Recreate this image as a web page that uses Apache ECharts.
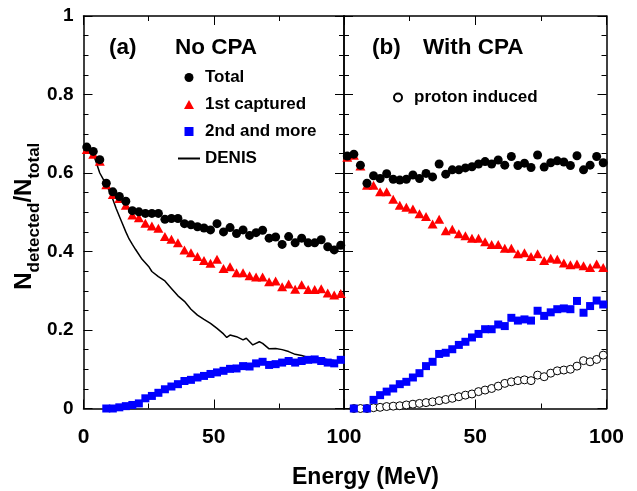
<!DOCTYPE html>
<html>
<head>
<meta charset="utf-8">
<script src="https://cdn.jsdelivr.net/npm/echarts@6/dist/echarts.min.js"></script>
<style>
html,body{margin:0;padding:0;background:#fff;}
#c{width:637px;height:491px;}
</style>
</head>
<body>
<div id="c"></div>
<script>
// ---- data ----
var energy = [1.25,3.75,6.25,8.75,11.25,13.75,16.25,18.75,21.25,23.75,26.25,28.75,31.25,33.75,36.25,38.75,41.25,43.75,46.25,48.75,51.25,53.75,56.25,58.75,61.25,63.75,66.25,68.75,71.25,73.75,76.25,78.75,81.25,83.75,86.25,88.75,91.25,93.75,96.25,98.75];

var noCpaTotal = [0.666,0.655,0.634,0.574,0.552,0.540,0.528,0.504,0.501,0.497,0.497,0.497,0.482,0.484,0.484,0.471,0.468,0.463,0.460,0.455,0.471,0.450,0.461,0.446,0.455,0.441,0.448,0.454,0.434,0.437,0.418,0.438,0.422,0.434,0.422,0.422,0.430,0.412,0.404,0.416];
var noCpaFirst = [0.660,0.648,0.630,0.570,0.545,0.535,0.518,0.493,0.486,0.472,0.465,0.459,0.438,0.431,0.422,0.404,0.397,0.387,0.377,0.370,0.380,0.357,0.361,0.346,0.346,0.338,0.335,0.335,0.323,0.325,0.310,0.317,0.304,0.315,0.303,0.303,0.305,0.294,0.289,0.293];
var noCpaSecond = [null,null,null,0.0,0.0,0.003,0.006,0.009,0.013,0.026,0.032,0.040,0.049,0.056,0.062,0.070,0.073,0.079,0.083,0.088,0.092,0.096,0.101,0.102,0.108,0.107,0.115,0.119,0.111,0.113,0.117,0.121,0.117,0.121,0.124,0.125,0.121,0.117,0.115,0.124];

var denisEnergy = [1.25,3.75,5,6.25,7.5,8.75,10,11.25,12.5,13.75,15,16.25,17.5,18.75,20,22.5,25,26.25,28.75,31.25,33.75,36.25,38.75,41.25,43.75,46.25,48.75,51.25,53.75,55,56.25,58.75,61.25,62.5,65,67.5,68.75,71.25,73.75,76.25,78.75,81.25,83.75,86.25,88.75,91.25,93.75,96.25,98.75];
var denisValue = [0.665,0.648,0.625,0.600,0.585,0.570,0.553,0.533,0.510,0.490,0.470,0.450,0.432,0.418,0.405,0.380,0.362,0.349,0.336,0.325,0.306,0.287,0.273,0.253,0.238,0.227,0.217,0.204,0.190,0.181,0.187,0.183,0.175,0.179,0.162,0.170,0.166,0.152,0.153,0.150,0.145,0.138,0.135,0.130,0.124,0.128,0.124,0.122,0.121];

var cpaTotal = [0.643,0.648,0.620,0.574,0.593,0.586,0.598,0.584,0.582,0.584,0.595,0.586,0.599,0.590,0.623,0.597,0.608,0.608,0.613,0.616,0.623,0.629,0.623,0.633,0.620,0.642,0.619,0.625,0.614,0.646,0.615,0.626,0.631,0.628,0.619,0.644,0.608,0.620,0.642,0.626];
var cpaFirst = [0.640,0.645,0.618,0.569,0.569,0.552,0.552,0.533,0.518,0.513,0.508,0.496,0.489,0.470,0.482,0.453,0.457,0.445,0.440,0.434,0.434,0.425,0.418,0.418,0.408,0.408,0.394,0.397,0.387,0.394,0.377,0.383,0.380,0.371,0.366,0.368,0.364,0.359,0.368,0.359];
var cpaSecond = [null,0.0,null,0.0,0.022,0.034,0.043,0.051,0.062,0.068,0.079,0.090,0.108,0.119,0.139,0.142,0.151,0.162,0.170,0.181,0.190,0.202,0.202,0.214,0.210,0.231,0.224,0.227,0.224,0.249,0.236,0.245,0.253,0.255,0.253,0.274,0.244,0.261,0.275,0.265];
var cpaProton = [null,0.0,0.0,0.0,0.002,0.003,0.005,0.006,0.007,0.009,0.011,0.013,0.015,0.017,0.020,0.023,0.026,0.030,0.034,0.037,0.043,0.047,0.051,0.057,0.064,0.068,0.071,0.073,0.071,0.085,0.081,0.090,0.096,0.098,0.100,0.108,0.122,0.119,0.125,0.136];

var xTicks = [0, 50, 100];
var yTicks = [0, 0.2, 0.4, 0.6, 0.8, 1];

// ---- helpers ----
function pairs(xs, ys) {
  var out = [];
  for (var i = 0; i < xs.length; i++) {
    if (ys[i] !== null && ys[i] !== undefined) out.push([xs[i], ys[i]]);
  }
  return out;
}

var FONT = 'Liberation Sans, Arial, Helvetica, sans-serif';
var lineStyle = {color: '#000', width: 1.5};
var TRI = 'path://M5,0L10,9L0,9Z';
var SQR = 'path://M0,0L8,0L8,8L0,8Z';

function xAxisDef(grid, pos, showLabels, hideMin) {
  return {
    type: 'value', gridIndex: grid, position: pos,
    min: xTicks[0], max: xTicks[xTicks.length - 1], interval: xTicks[1] - xTicks[0],
    axisLine: {show: true, onZero: false, lineStyle: lineStyle},
    axisTick: {show: true, inside: true, length: 9, lineStyle: {color: '#000', width: 1}},
    minorTick: {show: true, splitNumber: 2, length: 5, lineStyle: {color: '#000', width: 1}},
    splitLine: {show: false},
    axisLabel: {show: showLabels, showMinLabel: !hideMin, margin: 18, color: '#000',
      fontFamily: FONT, fontWeight: 'bold', fontSize: 21}
  };
}
function yAxisDef(grid, pos, showLabels) {
  var a = {
    type: 'value', gridIndex: grid, position: pos,
    min: yTicks[0], max: yTicks[yTicks.length - 1], interval: yTicks[1] - yTicks[0],
    axisLine: {show: true, onZero: false, lineStyle: lineStyle},
    axisTick: {show: true, inside: true, length: 9, lineStyle: {color: '#000', width: 1}},
    minorTick: {show: true, splitNumber: 4, length: 5, lineStyle: {color: '#000', width: 1}},
    splitLine: {show: false},
    axisLabel: {show: showLabels, margin: 10, color: '#000',
      fontFamily: FONT, fontWeight: 'bold', fontSize: 19}
  };
  if (grid === 0 && pos === 'left') {
    a.name = '{n|N}{s|detected}{n|/N}{s|total}';
    a.nameLocation = 'middle';
    a.nameGap = 38;
    a.nameTextStyle = {
      color: '#000',
      padding: [0, 8, 0, 0],
      rich: {
        n: {fontFamily: FONT, fontWeight: 'bold', fontSize: 24, color: '#000', padding: [0, 0, 7, 0], verticalAlign: 'bottom'},
        s: {fontFamily: FONT, fontWeight: 'bold', fontSize: 17, color: '#000', verticalAlign: 'bottom'}
      }
    };
  }
  return a;
}

var markerBase = {type: 'scatter', silent: true, animation: false};
var titleStyle = {fontFamily: FONT, fontWeight: 'bold', fontSize: 22.5, color: '#000'};

var option = {
  animation: false,
  backgroundColor: '#fff',
  grid: [
    {left: 83.5, top: 16, width: 260.5, height: 392.5},
    {left: 344, top: 16, width: 262.5, height: 392.5}
  ],
  xAxis: [
    xAxisDef(0, 'bottom', true, false),
    xAxisDef(0, 'top', false, false),
    xAxisDef(1, 'bottom', true, true),
    xAxisDef(1, 'top', false, false)
  ],
  yAxis: [
    yAxisDef(0, 'left', true),
    yAxisDef(0, 'right', false),
    yAxisDef(1, 'left', false),
    yAxisDef(1, 'right', false)
  ],
  title: [
    {text: '(a)', left: 109, top: 36, padding: 0, textStyle: titleStyle},
    {text: 'No CPA', left: 175, top: 36, padding: 0, textStyle: titleStyle},
    {text: '(b)', left: 372, top: 36, padding: 0, textStyle: titleStyle},
    {text: 'With CPA', left: 423, top: 36, padding: 0, textStyle: titleStyle},
    {text: 'Energy (MeV)', left: 292, top: 466, padding: 0, textStyle: {fontFamily: FONT, fontWeight: 'bold', fontSize: 23, color: '#000'}}
  ],
  legend: [
    {
      data: [
        {name: 'Total', icon: 'circle'},
        {name: '1st captured', icon: TRI},
        {name: '2nd and more', icon: SQR},
        {name: 'DENIS', itemStyle: {color: 'rgba(0,0,0,0)', borderWidth: 0, borderColor: 'rgba(0,0,0,0)'}}
      ],
      orient: 'vertical', left: 177, top: 69, padding: 0,
      itemWidth: 22, itemHeight: 9, itemGap: 10,
      selectedMode: false,
      textStyle: {fontFamily: FONT, fontWeight: 'bold', fontSize: 17, color: '#000'}
    },
    {
      data: [{name: 'proton induced', icon: 'circle'}],
      orient: 'vertical', left: 393, top: 89, padding: 0,
      itemWidth: 22, itemHeight: 8, itemGap: 10,
      selectedMode: false,
      textStyle: {fontFamily: FONT, fontWeight: 'bold', fontSize: 17, color: '#000'}
    }
  ],
  series: [
    {type: 'line', name: 'DENIS', xAxisIndex: 0, yAxisIndex: 0, data: pairs(denisEnergy, denisValue),
      symbol: 'none', silent: true, lineStyle: {color: '#000', width: 1.5}, itemStyle: {color: '#000'}, z: 2},
    Object.assign({}, markerBase, {name: '2nd and more', xAxisIndex: 0, yAxisIndex: 0, data: pairs(energy, noCpaSecond),
      symbol: 'rect', symbolSize: 8, itemStyle: {color: '#0000ff', opacity: 1}, z: 3}),
    Object.assign({}, markerBase, {name: '1st captured', xAxisIndex: 0, yAxisIndex: 0, data: pairs(energy, noCpaFirst),
      symbol: 'triangle', symbolSize: [10, 9], itemStyle: {color: '#ff0000', opacity: 1}, z: 4}),
    Object.assign({}, markerBase, {name: 'Total', xAxisIndex: 0, yAxisIndex: 0, data: pairs(energy, noCpaTotal),
      symbol: 'circle', symbolSize: 9, itemStyle: {color: '#000', opacity: 1}, z: 5}),

    Object.assign({}, markerBase, {name: 'proton induced', xAxisIndex: 2, yAxisIndex: 2, data: pairs(energy, cpaProton),
      symbol: 'circle', symbolSize: 8, itemStyle: {color: '#fff', borderColor: '#000', borderWidth: 1, opacity: 1}, z: 2}),
    Object.assign({}, markerBase, {name: '2nd and more', xAxisIndex: 2, yAxisIndex: 2, data: pairs(energy, cpaSecond),
      symbol: 'rect', symbolSize: 8, itemStyle: {color: '#0000ff', opacity: 1}, z: 3}),
    Object.assign({}, markerBase, {name: '1st captured', xAxisIndex: 2, yAxisIndex: 2, data: pairs(energy, cpaFirst),
      symbol: 'triangle', symbolSize: [10, 9], itemStyle: {color: '#ff0000', opacity: 1}, z: 4}),
    Object.assign({}, markerBase, {name: 'Total', xAxisIndex: 2, yAxisIndex: 2, data: pairs(energy, cpaTotal),
      symbol: 'circle', symbolSize: 9, itemStyle: {color: '#000', opacity: 1}, z: 5})
  ]
};

var chart = echarts.init(document.getElementById('c'), null, {renderer: 'canvas'});
chart.setOption(option);
</script>
</body>
</html>
